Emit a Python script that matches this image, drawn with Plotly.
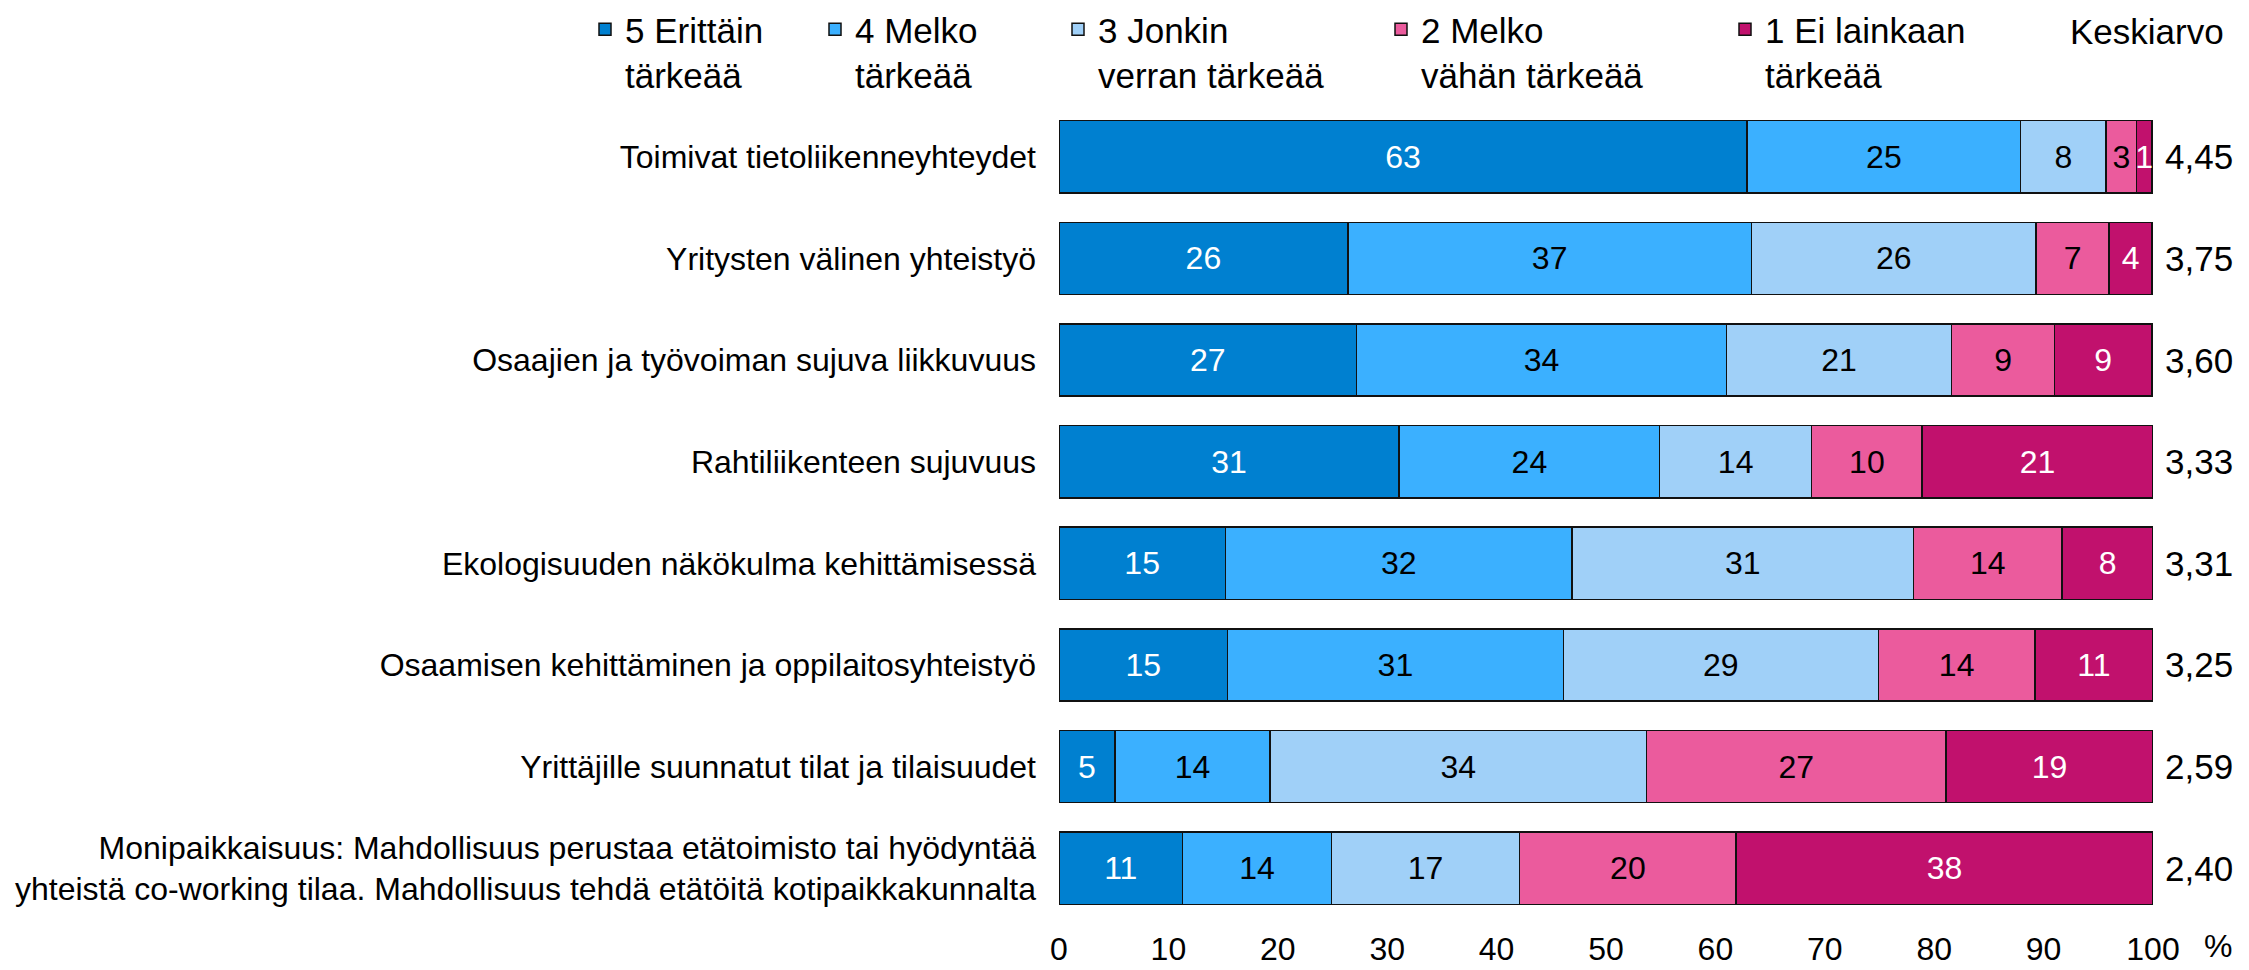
import plotly.graph_objects as go

categories = [
    "Toimivat tietoliikenneyhteydet",
    "Yritysten välinen yhteistyö",
    "Osaajien ja työvoiman sujuva liikkuvuus",
    "Rahtiliikenteen sujuvuus",
    "Ekologisuuden näkökulma kehittämisessä",
    "Osaamisen kehittäminen ja oppilaitosyhteistyö",
    "Yrittäjille suunnatut tilat ja tilaisuudet",
    "Monipaikkaisuus: Mahdollisuus perustaa etätoimisto tai hyödyntää<br>yhteistä co-working tilaa. Mahdollisuus tehdä etätöitä kotipaikkakunnalta",
]

series_names = [
    "5 Erittäin<br>tärkeää",
    "4 Melko<br>tärkeää",
    "3 Jonkin<br>verran tärkeää",
    "2 Melko<br>vähän tärkeää",
    "1 Ei lainkaan<br>tärkeää",
]

s5 = [62.9, 26.4, 27.2, 31.1, 15.2, 15.4, 5.1, 11.3]
s4 = [25.0, 36.9, 33.8, 23.8, 31.7, 30.7, 14.2, 13.6]
s3 = [7.8, 26.0, 20.6, 13.9, 31.2, 28.8, 34.4, 17.2]
s2 = [2.8, 6.7, 9.4, 10.1, 13.6, 14.3, 27.4, 19.8]
s1 = [1.4, 3.9, 8.9, 21.1, 8.3, 10.8, 18.9, 38.1]

mean_scores = [4.45, 3.75, 3.60, 3.33, 3.31, 3.25, 2.59, 2.40]

x_ticks = [0, 10, 20, 30, 40, 50, 60, 70, 80, 90, 100]

colors = ["#0080D0", "#3BB0FF", "#A0D0F8", "#EB5B9D", "#C1116D"]
text_colors = ["white", "black", "black", "black", "white"]

W, H = 2249, 970
FONT = "Liberation Sans, Arial, sans-serif"
FS = 32
FS_BIG = 35

ML, MR, MT, MB = 1059, 96, 106, 51
pw, ph = W - ML - MR, H - MT - MB


def px_x(px):
    return (px - ML) / pw


def px_y(py):
    return (H - MB - py) / ph


fig = go.Figure()
series = [s5, s4, s3, s2, s1]
legend_left_px = [585, 815, 1058, 1381, 1725]
for i, (name, vals) in enumerate(zip(series_names, series)):
    lg = "legend" if i == 0 else f"legend{i+1}"
    fig.add_trace(go.Bar(
        y=categories, x=vals, name=name, orientation="h",
        marker=dict(color=colors[i], line=dict(color="#111111", width=1.5)),
        texttemplate="%{x:.0f}", textposition="inside", insidetextanchor="middle",
        textangle=0, constraintext="none",
        textfont=dict(color=text_colors[i], size=FS, family=FONT),
        legend=lg, hoverinfo="x+name",
    ))

layout_legends = {}
for i in range(5):
    lg = "legend" if i == 0 else f"legend{i+1}"
    layout_legends[lg] = dict(
        x=px_x(legend_left_px[i]), y=px_y(0), xref="paper", yref="paper",
        xanchor="left", yanchor="top", valign="top",
        font=dict(size=FS_BIG, family=FONT, color="black"),
        bgcolor="rgba(0,0,0,0)", borderwidth=0, traceorder="normal",
        itemclick=False, itemdoubleclick=False,
    )

annotations = []
for cat, m in zip(categories, mean_scores):
    annotations.append(dict(
        x=100, y=cat, xref="x", yref="y", xanchor="left", yanchor="middle",
        xshift=10, text=f"{m:.2f}".replace(".", ","), showarrow=False,
        font=dict(size=FS_BIG, family=FONT, color="black"),
    ))
annotations.append(dict(
    x=px_x(2226), y=px_y(32), xref="paper", yref="paper", text="Keskiarvo",
    showarrow=False, xanchor="right", yanchor="middle",
    font=dict(size=FS_BIG, family=FONT, color="black"),
))
annotations.append(dict(
    x=px_x(2218), y=px_y(946), xref="paper", yref="paper", text="%",
    showarrow=False, xanchor="center", yanchor="middle",
    font=dict(size=FS, family=FONT, color="black"),
))

fig.update_layout(
    width=W, height=H, autosize=False,
    margin=dict(l=ML, r=MR, t=MT, b=MB, pad=0, autoexpand=False),
    barmode="stack", bargap=0.29,
    paper_bgcolor="white", plot_bgcolor="white",
    font=dict(family=FONT, size=FS, color="black"),
    uniformtext=dict(minsize=FS, mode="show"),
    showlegend=True,
    annotations=annotations,
    xaxis=dict(range=[0, 100], tickvals=x_ticks, ticktext=[str(t) for t in x_ticks],
               showgrid=False, zeroline=False, showline=False, ticks="",
               ticklabelstandoff=8, tickfont=dict(size=FS, family=FONT, color="black")),
    yaxis=dict(categoryorder="array", categoryarray=categories, range=[7.5, -0.5],
               showgrid=False, zeroline=False, showline=False, ticks="",
               ticklabelstandoff=22, tickfont=dict(size=FS, family=FONT, color="black")),
    **layout_legends,
)

fig.write_html("out.html", config={"displayModeBar": False, "responsive": False},
               post_script="document.body.style.margin='0';")
